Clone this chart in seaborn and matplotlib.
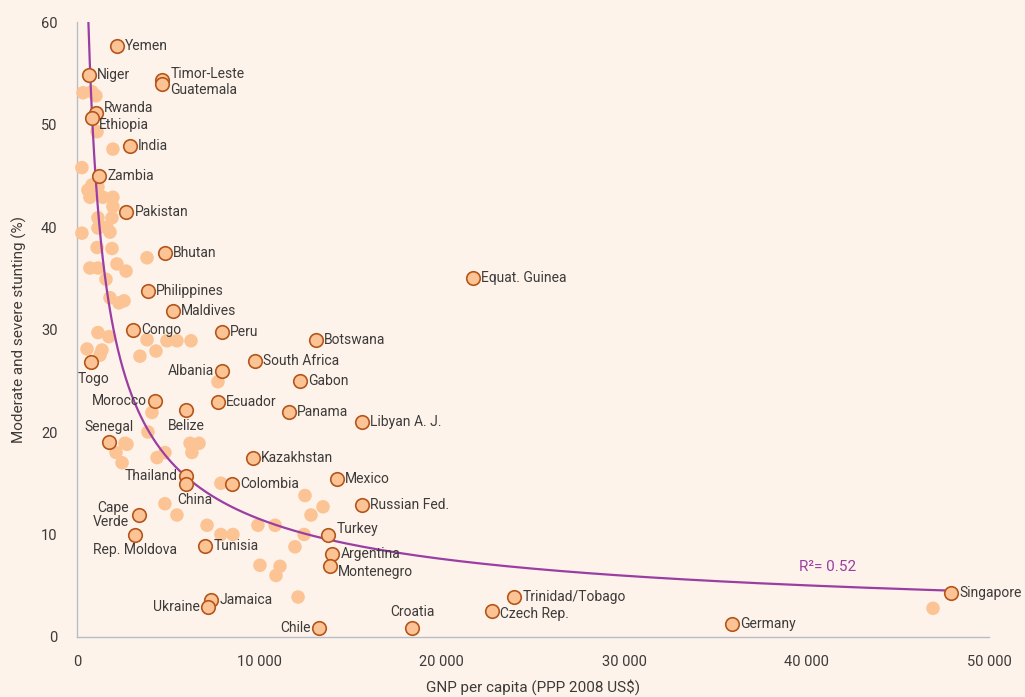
import matplotlib
matplotlib.use("Agg")
import matplotlib.pyplot as plt
from matplotlib import font_manager
from matplotlib.ticker import FuncFormatter
import numpy as np
import pandas as pd
import seaborn as sns

# labelled countries: GNP per capita (PPP 2008 US$), stunting (%)
countries = ["Yemen", "Niger", "Timor-Leste", "Guatemala", "Rwanda", "Ethiopia", "India",
             "Zambia", "Pakistan", "Bhutan", "Philippines", "Maldives", "Congo", "Peru",
             "Botswana", "South Africa", "Togo", "Albania", "Gabon", "Morocco", "Ecuador",
             "Belize", "Panama", "Libyan A. J.", "Equat. Guinea", "Senegal", "Kazakhstan",
             "Thailand", "China", "Colombia", "Mexico", "Russian Fed.", "Cape\nVerde",
             "Rep. Moldova", "Turkey", "Tunisia", "Argentina", "Montenegro", "Jamaica",
             "Ukraine", "Chile", "Croatia", "Czech Rep.", "Trinidad/Tobago", "Germany",
             "Singapore"]
gnp = [2190, 660, 4660, 4660, 1040, 820, 2900,
       1200, 2690, 4820, 3890, 5260, 3070, 7950,
       13100, 9760, 770, 7950, 12200, 4280, 7730,
       5980, 11600, 15600, 21700, 1750, 9650,
       5980, 5980, 8500, 14250, 15600, 3400,
       3180, 13760, 7020, 13980, 13870, 7350,
       7180, 13270, 18370, 22750, 23960, 35900,
       47900]
stunting = [57.7, 54.8, 54.3, 54.0, 51.1, 50.6, 47.9,
            45.0, 41.5, 37.5, 33.8, 31.8, 30.0, 29.8,
            29.0, 26.9, 26.8, 26.0, 25.0, 23.0, 22.9,
            22.1, 22.0, 21.0, 35.0, 19.0, 17.5,
            15.7, 14.9, 14.9, 15.4, 12.9, 11.9,
            9.95, 9.95, 8.9, 8.1, 6.9, 3.6,
            2.9, 0.9, 0.9, 2.5, 3.9, 1.3,
            4.3]

# unlabelled countries
other_gnp = [330, 820, 1040, 1100, 1970, 270, 600, 820, 1150, 710, 1430, 1970, 1970, 1920,
             1150, 1150, 1640, 1810, 270, 1100, 1920, 3840, 710, 1150, 2190, 2690, 1590,
             1810, 2300, 2580, 1150, 1750, 3840, 4930, 5480, 6250, 550, 1370, 1260, 3450,
             4330, 7730, 4110, 3890, 2630, 2740, 2140, 6200, 6690, 6300, 4820, 4390, 2470,
             7890, 4820, 5480, 7130, 7890, 8550, 9920, 10860, 12500, 12830, 13490, 12450,
             11950, 10030, 11130, 10910, 12120, 46930]
other_stunting = [53.1, 53.2, 52.8, 49.3, 47.6, 45.8, 43.6, 44.1, 43.9, 42.9, 42.9, 42.9, 42.0,
                  40.9, 40.9, 39.9, 40.0, 39.5, 39.4, 38.0, 37.9, 37.0, 36.0, 36.0, 36.4, 35.7,
                  34.9, 33.1, 32.6, 32.8, 29.7, 29.3, 29.0, 28.9, 28.9, 28.9, 28.1, 28.0, 27.5,
                  27.4, 27.9, 24.9, 21.9, 20.0, 18.9, 18.8, 18.0, 18.9, 18.9, 18.0, 18.0, 17.5,
                  17.0, 15.0, 13.0, 11.9, 10.9, 10.0, 10.0, 10.9, 10.9, 13.8, 11.9, 12.7, 10.0,
                  8.8, 7.0, 6.9, 6.0, 3.9, 2.8]

# power trend y = a * (x/1000)^-b
trend_a = 45.4
trend_b = 0.596
r2_text = "R²= 0.52"

# label placement: (dx, dy) in points, horizontal alignment
label_pos = {
    "Yemen": (6, 0, "left"), "Niger": (6, 0, "left"), "Timor-Leste": (6, 4.5, "left"),
    "Guatemala": (6, -4.5, "left"), "Rwanda": (6, 3.5, "left"), "Ethiopia": (5, -4.5, "left"),
    "Togo": (2, -12, "center"), "Albania": (-6, 0, "right"), "Morocco": (-6, 0, "right"),
    "Belize": (0, -11, "center"), "Senegal": (0, 11, "center"), "Thailand": (-6, 0, "right"),
    "China": (6, -11, "center"), "Cape\nVerde": (-7, 0, "right"),
    "Rep. Moldova": (0, -11, "center"), "Turkey": (6, 4, "left"),
    "Montenegro": (6, -4, "left"), "Ukraine": (-6, 0, "right"), "Chile": (-6, 0, "right"),
    "Croatia": (0, 11, "center"), "Czech Rep.": (6, -2, "left"),
}

names = {f.name for f in font_manager.fontManager.ttflist}
font = "Liberation Sans Narrow" if "Liberation Sans Narrow" in names else "Roboto"

bg = "#fdf3ea"
dot = "#fcc494"
edge = "#b5561d"
purple = "#9b3ea3"
axis_col = "#b7bcc8"
text_col = "#3d3a3a"

sns.set_theme(style="white")
plt.rcParams["font.family"] = [font, "DejaVu Sans"]

fig = plt.figure(figsize=(10.25, 6.97), dpi=100, facecolor=bg)
ax = fig.add_axes([0.0751, 0.0861, 0.8898, 0.8823], facecolor=bg)

others = pd.DataFrame({"gnp": other_gnp, "stunting": other_stunting})
labelled = pd.DataFrame({"country": countries, "gnp": gnp, "stunting": stunting})

sns.scatterplot(data=others, x="gnp", y="stunting", ax=ax, s=95, color=dot,
                edgecolor="none", linewidth=0, zorder=3, clip_on=False)

x_start = 1000 * (trend_a / 60) ** (1 / trend_b)
xs = np.geomspace(x_start, max(gnp), 300)
trend = pd.DataFrame({"gnp": xs, "stunting": trend_a * (xs / 1000) ** -trend_b})
sns.lineplot(data=trend, x="gnp", y="stunting", ax=ax, color=purple, lw=1.6, zorder=4)

sns.scatterplot(data=labelled, x="gnp", y="stunting", ax=ax, s=95, color=dot,
                edgecolor=edge, linewidth=1.2, zorder=5, clip_on=False)

for name, x, y in zip(countries, gnp, stunting):
    dx, dy, ha = label_pos.get(name, (6, 0, "left"))
    ax.annotate(name, (x, y), xytext=(dx, dy), textcoords="offset points",
                ha=ha, va="center", fontsize=10, color=text_col, zorder=6,
                linespacing=0.95)

ax.text(39600, 6.8, r2_text, color=purple, fontsize=11, va="center", ha="left")

ax.set_xlim(0, 50000)
ax.set_ylim(0, 60)
ax.set_xticks(range(0, 50001, 10000))
ax.set_yticks(range(0, 61, 10))
ax.xaxis.set_major_formatter(FuncFormatter(lambda v, p: f"{int(v):,}".replace(",", " ")))
ax.tick_params(axis="both", direction="out", length=8, width=1, color=axis_col,
               labelsize=10.5, labelcolor=text_col)
ax.tick_params(axis="y", pad=6)
ax.tick_params(axis="x", pad=5)
for side in ["top", "right"]:
    ax.spines[side].set_visible(False)
for side in ["left", "bottom"]:
    ax.spines[side].set_color(axis_col)
    ax.spines[side].set_linewidth(1)

ax.set_xlabel("GNP per capita (PPP 2008 US$)", fontsize=11, color=text_col, labelpad=7)
ax.set_ylabel("Moderate and severe stunting (%)", fontsize=11, color=text_col, labelpad=10)

fig.savefig("out.png", dpi=100, facecolor=bg)
